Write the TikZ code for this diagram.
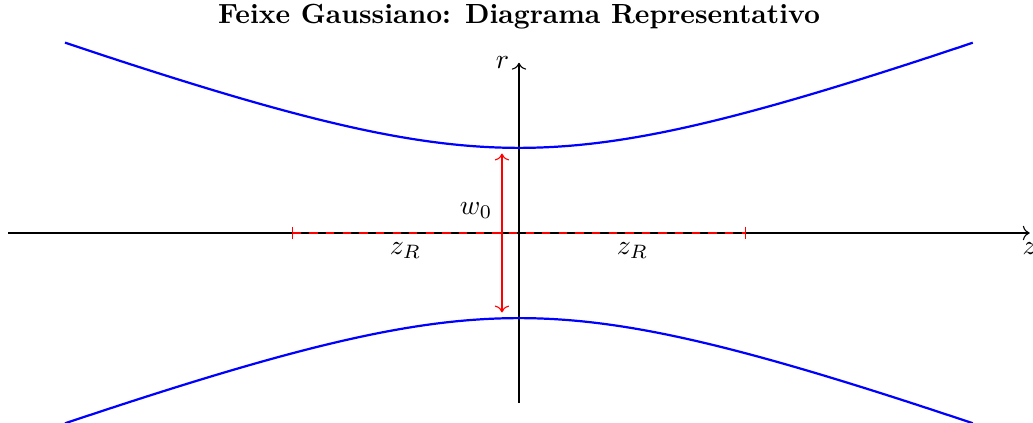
\documentclass[tikz,border=0pt]{standalone}
\usepackage{amsmath,amssymb}
\usepackage{tikz}
\usetikzlibrary{arrows.meta,positioning,calc}

\begin{document}
\begin{tikzpicture}[x=1.44cm,y=1.44cm,
    beam/.style={blue,thick,domain=-4:4,samples=120,smooth},
    waist/.style={draw=red,<->},
    rayleigh/.style={draw=red,dashed,|-|}]
    \useasboundingbox (-4.573,-1.674) rectangle (4.529,2.053);
    % axes
    \coordinate (zL) at (-4.5,0);
    \coordinate (rB) at (0,-1.5);
    \draw[->] (zL) -- (4.5,0) node[below] (zlab) {$z$};
    \draw[->] (rB) -- (0,1.5) node[left] (rlab) {$r$};
    % beam profile
    \draw[beam] plot (\x,{0.75*sqrt(1+(\x/2)^2)});
    \draw[beam] plot (\x,{-0.75*sqrt(1+(\x/2)^2)});
    % waist
    \coordinate (wB) at (-0.15,-0.7);
    \coordinate (wT) at (-0.15,0.7);
    \draw[waist] (wB) -- (wT);
    \node[left] (wlab) at (-0.15,0.2) {$w_0$};
    % Rayleigh range
    \coordinate (zRL) at (-2,0);
    \coordinate (zRR) at (2,0);
    \draw[rayleigh] (zRL) -- (zRR);
    \node[below] (zRa) at (-1,0) {$z_R$};
    \node[below] (zRb) at (1,0) {$z_R$};
    \node[font=\bfseries] (title) at (0,1.91) {Feixe Gaussiano: Diagrama Representativo};
\end{tikzpicture}
\end{document}
